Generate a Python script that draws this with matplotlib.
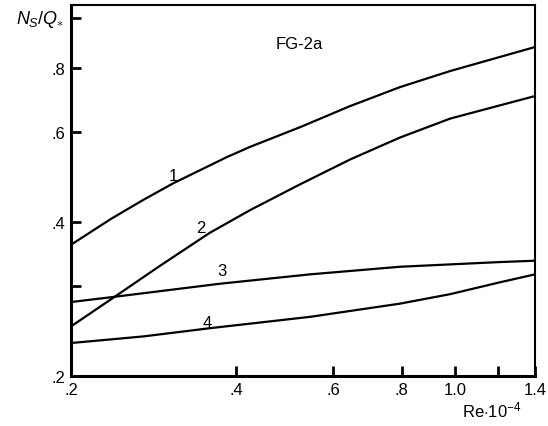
import matplotlib
matplotlib.use("Agg")
from matplotlib import pyplot as plt
from matplotlib.ticker import FixedLocator, NullLocator

plt.rcParams["font.family"] = ["Liberation Sans", "DejaVu Sans"]
plt.rcParams["mathtext.fontset"] = "custom"
plt.rcParams["mathtext.rm"] = "Liberation Sans"
plt.rcParams["mathtext.it"] = "Liberation Sans:italic"

# Re*1e-4 values and N_S/Q_*
x1 = [0.2, 0.236, 0.270, 0.307, 0.385, 0.424, 0.523, 0.645, 0.795, 0.981, 1.4]
y1 = [0.361, 0.405, 0.441, 0.476, 0.536, 0.561, 0.613, 0.674, 0.734, 0.789, 0.879]

x2 = [0.2, 0.236, 0.290, 0.358, 0.424, 0.523, 0.645, 0.795, 0.981, 1.4]
y2 = [0.250, 0.282, 0.328, 0.381, 0.422, 0.474, 0.530, 0.585, 0.637, 0.705]

x3 = [0.2, 0.236, 0.374, 0.545, 0.795, 1.21, 1.4]
y3 = [0.279, 0.285, 0.303, 0.316, 0.327, 0.334, 0.336]

x4 = [0.2, 0.271, 0.358, 0.545, 0.795, 0.98, 1.21, 1.4]
y4 = [0.232, 0.239, 0.248, 0.261, 0.277, 0.289, 0.305, 0.316]

curve_labels = ["1", "2", "3", "4"]
label_x = [0.307, 0.344, 0.377, 0.354]
label_y = [0.492, 0.391, 0.321, 0.255]

xticks = [0.2, 0.4, 0.6, 0.8, 1.0, 1.2, 1.4]
xticklabels = [".2", ".4", ".6", ".8", "1.0", "", "1.4"]
yticks = [0.2, 0.3, 0.4, 0.6, 0.8, 1.0]
yticklabels = [".2", "", ".4", ".6", ".8", ""]

fig = plt.figure(figsize=(5.48, 4.27), dpi=100)
ax = fig.add_axes([71/548, 50/427, 464/548, 371/427])

for xs, ys in [(x1, y1), (x2, y2), (x3, y3), (x4, y4)]:
    ax.plot(xs, ys, color="black", lw=1.6)

for t, lx, ly in zip(curve_labels, label_x, label_y):
    ax.text(lx, ly, t, fontsize=12, ha="center", va="center")

ax.text(0.522, 0.895, "FG-2a", fontsize=12, ha="center", va="center")

ax.set_xscale("log")
ax.set_yscale("log")
ax.set_xlim(0.2, 1.4)
ax.set_ylim(0.2, 1.062)

ax.xaxis.set_major_locator(FixedLocator(xticks))
ax.xaxis.set_minor_locator(NullLocator())
ax.set_xticklabels(xticklabels)
ax.yaxis.set_major_locator(FixedLocator(yticks))
ax.yaxis.set_minor_locator(NullLocator())
ax.set_yticklabels(yticklabels)

ax.tick_params(direction="in", length=7, width=2, labelsize=12, pad=4)
for side in ["left", "bottom"]:
    ax.spines[side].set_linewidth(2.2)
for side in ["top", "right"]:
    ax.spines[side].set_linewidth(1.5)

fig.text(40/548, 1 - 20/427, r"$N_S/Q_{\ast}$", fontsize=13, ha="center", va="center")
fig.text(492/548, 1 - 410/427, r"Re$\cdot$10$^{-4}$", fontsize=12, ha="center", va="center")

fig.savefig("out.png", dpi=100)
